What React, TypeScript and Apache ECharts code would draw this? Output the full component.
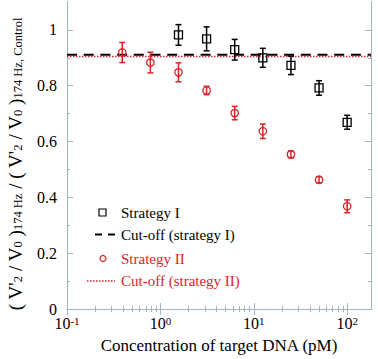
import React, { useEffect, useRef } from "react";
import * as echarts from "echarts";

// Concentrations (pM)
const concS1 = [1.5625, 3.125, 6.25, 12.5, 25, 50, 100];
const valS1 = [0.982, 0.968, 0.929, 0.9, 0.873, 0.792, 0.669];
const errS1 = [0.037, 0.043, 0.037, 0.034, 0.033, 0.026, 0.025];

const concS2 = [0.390625, 0.78125, 1.5625, 3.125, 6.25, 12.5, 25, 50, 100];
const valS2 = [0.919, 0.883, 0.848, 0.783, 0.702, 0.637, 0.554, 0.463, 0.368];
const errS2 = [0.036, 0.037, 0.034, 0.015, 0.024, 0.026, 0.012, 0.011, 0.023];

const cutoffS1 = 0.911;
const cutoffS2 = 0.905;

const xMajorTicks = [0.1, 1, 10, 100];
const xMinorTicks = [
  0.2, 0.3, 0.4, 0.5, 0.6, 0.7, 0.8, 0.9,
  2, 3, 4, 5, 6, 7, 8, 9,
  20, 30, 40, 50, 60, 70, 80, 90,
];
const yMajorTicks = [0, 0.2, 0.4, 0.6, 0.8, 1];
const yMinorTicks = [0.1, 0.3, 0.5, 0.7, 0.9];

const legendLabels = ["Strategy I", "Cut-off (strategy I)", "Strategy II", "Cut-off (strategy II)"];

const X_MIN = 0.1;
const X_MAX = 180;
const Y_MIN = 0;
const Y_MAX = 1.1;

const AXIS_COLOR = "#9fb5c5";
const RED = "#d8232a";
const FONT = "'Liberation Serif', 'Times New Roman', serif";
const CLEAR = "rgba(255,255,255,0)";

export default function App() {
  const ref = useRef<HTMLDivElement>(null);

  useEffect(() => {
    if (!ref.current) return;
    const chart = echarts.init(ref.current, null, { renderer: "svg" });

    const errorSeries = (conc: number[], val: number[], err: number[], color: string) => ({
      type: "custom",
      xAxisIndex: 0,
      yAxisIndex: 0,
      silent: true,
      z: 3,
      data: conc.map((c, i) => [c, val[i] - err[i], val[i] + err[i]]),
      renderItem: (params: any, api: any) => {
        const lo = api.coord([api.value(0), api.value(1)]);
        const hi = api.coord([api.value(0), api.value(2)]);
        const hw = 3;
        const style = { stroke: color, lineWidth: 1.5 };
        return {
          type: "group",
          children: [
            { type: "line", shape: { x1: lo[0], y1: lo[1], x2: hi[0], y2: hi[1] }, style },
            { type: "line", shape: { x1: lo[0] - hw, y1: lo[1], x2: lo[0] + hw, y2: lo[1] }, style },
            { type: "line", shape: { x1: hi[0] - hw, y1: hi[1], x2: hi[0] + hw, y2: hi[1] }, style },
          ],
        };
      },
    });

    const supFormatter = (v: number) => {
      const e = Math.round(Math.log10(v));
      return `{b|10}{s|${e}}`;
    };

    const baseX = {
      type: "log",
      logBase: 10,
      min: X_MIN,
      max: X_MAX,
      splitLine: { show: false },
      axisLine: { show: true, lineStyle: { color: AXIS_COLOR, width: 1 } },
    };
    const baseY = {
      type: "value",
      min: Y_MIN,
      max: Y_MAX,
      splitLine: { show: false },
      axisLine: { show: true, lineStyle: { color: AXIS_COLOR, width: 1 } },
    };

    // Legend, drawn by hand (symbols sized like the reference)
    const LX = 121;
    const legendY = [212.5, 234.5, 258.5, 281];
    const legendColors = ["#000", "#000", RED, RED];
    const legendGraphics: any[] = [
      { type: "rect", shape: { x: 99, y: legendY[0] - 3.5, width: 7, height: 7 }, style: { fill: CLEAR, stroke: "#000", lineWidth: 1.2 } },
      { type: "line", shape: { x1: 95, y1: legendY[1], x2: 115, y2: legendY[1] }, style: { stroke: "#000", lineWidth: 2, lineDash: [7, 6] } },
      { type: "circle", shape: { cx: 103, cy: legendY[2], r: 3 }, style: { fill: CLEAR, stroke: RED, lineWidth: 1.2 } },
      { type: "line", shape: { x1: 87, y1: legendY[3], x2: 115, y2: legendY[3] }, style: { stroke: RED, lineWidth: 1.3, lineDash: [1.5, 1.5] } },
      ...legendLabels.map((t, i) => ({
        type: "text",
        x: LX,
        y: legendY[i],
        style: { text: t, fontFamily: FONT, fontSize: 15, fill: legendColors[i], verticalAlign: "middle", align: "left" },
      })),
    ];

    const option: any = {
      animation: false,
      textStyle: { fontFamily: FONT },
      grid: { left: 67, right: 7, top: 2, bottom: 49, containLabel: false },
      xAxis: [
        {
          ...baseX,
          position: "bottom",
          name: "Concentration of target DNA (pM)",
          nameLocation: "middle",
          nameGap: 28,
          nameTextStyle: { fontFamily: FONT, fontSize: 17, color: "#000" },
          axisTick: { show: true, inside: true, length: 6, customValues: xMajorTicks, lineStyle: { color: AXIS_COLOR } },
          axisLabel: {
            show: true,
            margin: 6,
            customValues: xMajorTicks,
            formatter: supFormatter,
            rich: {
              b: { fontFamily: FONT, fontSize: 16, color: "#000", verticalAlign: "bottom" },
              s: { fontFamily: FONT, fontSize: 11, color: "#000", verticalAlign: "top" },
            },
          },
        },
        {
          ...baseX,
          position: "bottom",
          axisTick: { show: true, inside: true, length: 3, customValues: xMinorTicks, lineStyle: { color: AXIS_COLOR } },
          axisLabel: { show: false },
        },
        {
          ...baseX,
          position: "top",
          axisTick: { show: true, inside: true, length: 6, customValues: xMajorTicks, lineStyle: { color: AXIS_COLOR } },
          axisLabel: { show: false },
        },
        {
          ...baseX,
          position: "top",
          axisTick: { show: true, inside: true, length: 3, customValues: xMinorTicks, lineStyle: { color: AXIS_COLOR } },
          axisLabel: { show: false },
        },
      ],
      yAxis: [
        {
          ...baseY,
          position: "left",
          axisTick: { show: true, inside: true, length: 6, customValues: yMajorTicks, lineStyle: { color: AXIS_COLOR } },
          axisLabel: {
            show: true,
            margin: 10,
            customValues: yMajorTicks,
            fontFamily: FONT,
            fontSize: 16,
            color: "#000",
            formatter: (v: number) => String(Math.round(v * 10) / 10),
          },
        },
        {
          ...baseY,
          position: "left",
          axisTick: { show: true, inside: true, length: 3, customValues: yMinorTicks, lineStyle: { color: AXIS_COLOR } },
          axisLabel: { show: false },
        },
        {
          ...baseY,
          position: "right",
          axisTick: { show: true, inside: true, length: 6, customValues: yMajorTicks, lineStyle: { color: AXIS_COLOR } },
          axisLabel: { show: false },
        },
        {
          ...baseY,
          position: "right",
          axisTick: { show: true, inside: true, length: 3, customValues: yMinorTicks, lineStyle: { color: AXIS_COLOR } },
          axisLabel: { show: false },
        },
      ],
      graphic: [
        {
          type: "text",
          x: 15,
          y: 164,
          rotation: Math.PI / 2,
          style: {
            text: "{m|( V'}{s|2}{m| / V}{s|0}{m| )}{s|174 Hz}{m| / ( V'}{s|2}{m| / V}{s|0}{m| )}{s|174 Hz, Control}",
            align: "center",
            verticalAlign: "middle",
            rich: {
              m: { fontFamily: FONT, fontSize: 19, fill: "#000", verticalAlign: "top" },
              s: { fontFamily: FONT, fontSize: 12.5, fill: "#000", verticalAlign: "bottom" },
            },
          },
        },
        ...legendGraphics,
      ],
      series: [
        {
          name: "Cut-off (strategy I)",
          type: "line",
          xAxisIndex: 0,
          yAxisIndex: 0,
          symbol: "none",
          silent: true,
          z: 1,
          data: [[X_MIN, cutoffS1], [X_MAX, cutoffS1]],
          lineStyle: { color: "#000", width: 2, type: [10, 6.7] },
        },
        {
          name: "Cut-off (strategy II)",
          type: "line",
          xAxisIndex: 0,
          yAxisIndex: 0,
          symbol: "none",
          silent: true,
          z: 2,
          data: [[X_MIN, cutoffS2], [X_MAX, cutoffS2]],
          lineStyle: { color: RED, width: 1.5, type: [1.5, 1.5] },
        },
        errorSeries(concS1, valS1, errS1, "#000"),
        errorSeries(concS2, valS2, errS2, RED),
        {
          name: "Strategy I",
          type: "scatter",
          xAxisIndex: 0,
          yAxisIndex: 0,
          symbol: "rect",
          symbolSize: 8,
          z: 4,
          data: concS1.map((c, i) => [c, valS1[i]]),
          itemStyle: { color: CLEAR, borderColor: "#000", borderWidth: 1.3, opacity: 1 },
        },
        {
          name: "Strategy II",
          type: "scatter",
          xAxisIndex: 0,
          yAxisIndex: 0,
          symbol: "circle",
          symbolSize: 7.5,
          z: 4,
          data: concS2.map((c, i) => [c, valS2[i]]),
          itemStyle: { color: CLEAR, borderColor: RED, borderWidth: 1.3, opacity: 1 },
        },
      ],
    };

    chart.setOption(option);
    return () => chart.dispose();
  }, []);

  return (
    <div
      ref={ref}
      style={{ position: "absolute", left: 0, top: 0, width: 378, height: 359, background: "#fff" }}
    />
  );
}
